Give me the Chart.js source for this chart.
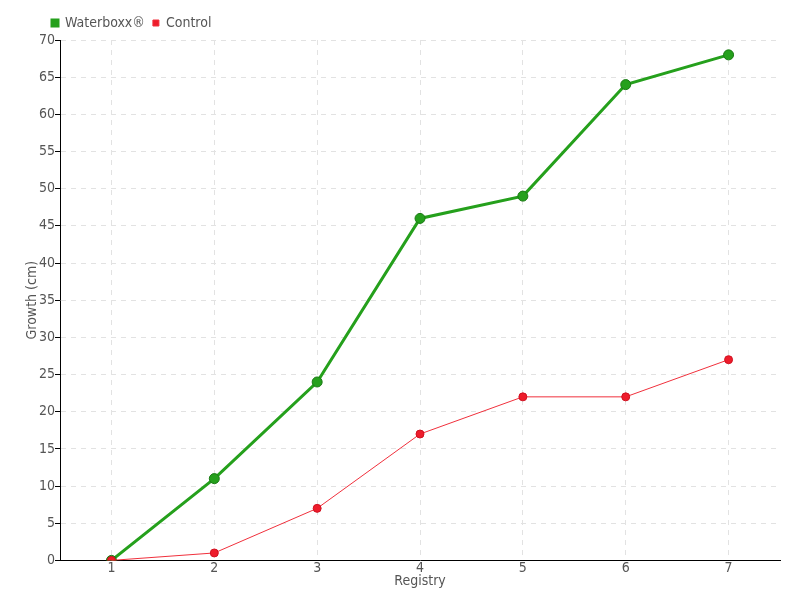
<!DOCTYPE html>
<html lang="en">
<head>
    <title>Waterboxx growth</title>
    <meta charset="utf-8">
    <script src="https://cdn.jsdelivr.net/npm/chart.js@4.4.0/dist/chart.umd.min.js"></script>
    <style>
        body { margin: 0; background: #fff; }
        #wrap { width: 800px; height: 600px; }
    </style>
</head>
<body>
<div id="wrap"><canvas id="growth-chart" width="800" height="600"></canvas></div>
<script>
const registry = ["1", "2", "3", "4", "5", "6", "7"];
const waterboxx = [0, 11, 24, 46, 49, 64, 68];
const control = [0, 1, 7, 17, 22, 22, 27];

const fontFamily = "'DejaVu Sans Condensed', 'Liberation Sans Narrow', sans-serif";
const grey = "#555";

// shift the legend to the right, like the original
const legendShift = {
    id: "legendShift",
    afterLayout(chart) {
        chart.legend.left = 44;
    }
};

new Chart("growth-chart", {
    type: "line",
    data: {
        labels: registry,
        datasets: [
            {
                label: "Waterboxx®",
                data: waterboxx,
                borderColor: "#25a01c",
                backgroundColor: "#25a01c",
                borderWidth: 3,
                pointRadius: 5,
                pointBorderWidth: 1,
                pointBorderColor: "#1a7a14",
                pointBackgroundColor: "#25a01c",
                order: 1
            },
            {
                label: "Control",
                data: control,
                borderColor: "#f0303c",
                backgroundColor: "#ee1c2b",
                borderWidth: 1,
                pointRadius: 4,
                pointBorderWidth: 1,
                pointBorderColor: "#d01020",
                pointBackgroundColor: "#ee1c2b",
                order: 0
            }
        ]
    },
    options: {
        responsive: false,
        animation: false,
        layout: { padding: { left: 25, right: 20, top: 8, bottom: 10 } },
        plugins: {
            legend: {
                align: "start",
                labels: {
                    boxWidth: 6,
                    boxHeight: 6,
                    padding: 8,
                    color: grey,
                    font: { family: fontFamily, size: 14 },
                    sort: (a, b) => a.datasetIndex - b.datasetIndex
                }
            },
            tooltip: { enabled: false }
        },
        scales: {
            x: {
                offset: true,
                grid: { color: "#e2e2e2", offset: false, drawTicks: false },
                border: { color: "#000", dash: [5, 5] },
                ticks: { color: grey, font: { family: fontFamily, size: 14 }, padding: 0 },
                title: { display: true, text: "Registry", color: grey, font: { family: fontFamily, size: 14 }, padding: { top: -4, bottom: 0 } }
            },
            y: {
                min: 0,
                max: 70,
                ticks: { stepSize: 5, color: grey, font: { family: fontFamily, size: 14 }, padding: 0 },
                grid: { color: "#e2e2e2", tickLength: 5, tickColor: "#000" },
                border: { color: "#000", dash: [5, 5] },
                title: { display: true, text: "Growth (cm)", color: grey, font: { family: fontFamily, size: 14, lineHeight: 1 }, padding: 0 }
            }
        }
    },
    plugins: [legendShift]
});
</script>
</body>
</html>
